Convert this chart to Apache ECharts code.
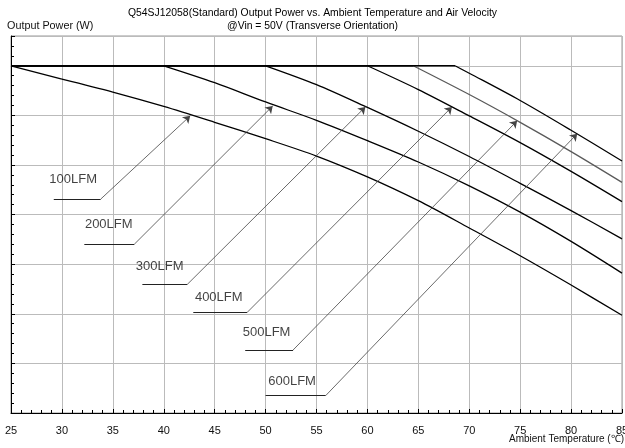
<!DOCTYPE html>
<html>
<head>
<meta charset="utf-8">
<title>Q54SJ12058 derating</title>
<script src="https://cdn.jsdelivr.net/npm/echarts@6/dist/echarts.min.js"></script>
<style>
  html, body { margin: 0; padding: 0; background: #fff; }
  #chart { width: 625px; height: 448px; }
</style>
</head>
<body>
<div id="chart"></div>
<script>
// Output power (W) vs ambient temperature (°C) for each air velocity
const temp100 = [25, 30, 35, 40, 45, 50, 55, 60, 65, 70, 75, 80, 85];
const power100 = [700, 673, 647, 618, 586, 553, 518, 476, 428, 373, 317, 258, 197];

const temp200 = [25, 40, 45, 50, 55, 60, 65, 70, 75, 80, 85];
const power200 = [700, 700, 666, 627, 590, 549, 506, 458, 405, 346, 282];

const temp300 = [25, 50, 55, 60, 65, 70, 75, 80, 85];
const power300 = [700, 700, 662, 616, 568, 517, 463, 408, 351];

const temp400 = [25, 60, 65, 70, 75, 80, 85];
const power400 = [700, 700, 652, 599, 545, 487, 426];

const temp500 = [25, 64.5, 70, 75, 80, 85];
const power500 = [700, 700, 642, 586, 527, 465];

const temp600 = [25, 68.6, 70, 75, 80, 85];
const power600 = [700, 700, 685, 630, 570, 508];

const xTicks = [25, 30, 35, 40, 45, 50, 55, 60, 65, 70, 75, 80, 85];

// Callout labels: text anchor, underline start/end and arrow tip, in data units
const calloutNames = ['100LFM', '200LFM', '300LFM', '400LFM', '500LFM', '600LFM'];
const calloutText = [[31.1, 471], [34.6, 381], [39.6, 296], [45.4, 233], [50.1, 162], [52.6, 64]];
const calloutLineA = [[29.2, 431], [32.2, 340], [37.9, 259], [42.9, 203], [48.0, 127], [50.0, 35]];
const calloutLineB = [[33.8, 431], [37.1, 340], [42.3, 259], [48.2, 203], [52.7, 127], [55.9, 35]];
const calloutTip = [[42.6, 599], [50.7, 619], [59.8, 617], [68.3, 617], [74.7, 589], [80.6, 563]];

function pairs(t, p) { return t.map((v, i) => [v, p[i]]); }

const curves = [
  { name: '100LFM', t: temp100, p: power100, color: '#000' },
  { name: '200LFM', t: temp200, p: power200, color: '#000' },
  { name: '300LFM', t: temp300, p: power300, color: '#000' },
  { name: '400LFM', t: temp400, p: power400, color: '#000' },
  { name: '500LFM', t: temp500, p: power500, color: '#5a5a5a' },
  { name: '600LFM', t: temp600, p: power600, color: '#000' }
];

const FONT = '"Liberation Sans", Arial, sans-serif';

const series = [];
curves.forEach(c => {
  const pts = pairs(c.t, c.p);
  // flat full-power stretch, drawn straight so the knee stays sharp
  series.push({
    type: 'line', name: c.name, data: pts.slice(0, 2),
    showSymbol: false, symbol: 'none',
    lineStyle: { color: '#000', width: 1.3 }, z: 3, silent: true
  });
  // derated stretch, smoothed
  series.push({
    type: 'line', name: c.name, data: pts.slice(1),
    showSymbol: false, symbol: 'none',
    smooth: 0.3,
    lineStyle: { color: c.color, width: 1.3 }, z: 3, silent: true
  });
});

// underlines below each callout text
series.push({
  type: 'lines',
  coordinateSystem: 'cartesian2d',
  symbol: ['none', 'none'],
  lineStyle: { color: '#222', width: 1, opacity: 1 },
  data: calloutNames.map((n, i) => ({ coords: [calloutLineA[i], calloutLineB[i]] })),
  z: 4,
  silent: true
});

// leader lines with arrowheads
series.push({
  type: 'lines',
  coordinateSystem: 'cartesian2d',
  symbol: ['none', 'arrow'],
  symbolSize: [5, 7],
  lineStyle: { color: '#444', width: 0.8, opacity: 1 },
  itemStyle: { color: '#222' },
  data: calloutNames.map((n, i) => ({ coords: [calloutLineB[i], calloutTip[i]] })),
  z: 4,
  silent: true
});

series.push({
  type: 'scatter',
  symbolSize: 0,
  data: calloutNames.map((n, i) => ({ value: calloutText[i], name: n })),
  label: {
    show: true,
    position: 'inside',
    formatter: p => p.name,
    fontFamily: FONT,
    fontSize: 13,
    color: '#111'
  },
  z: 5,
  silent: true
});

const chart = echarts.init(document.getElementById('chart'), null, { renderer: 'canvas' });
chart.setOption({
  animation: false,
  backgroundColor: '#fff',
  title: [
    {
      text: 'Q54SJ12058(Standard) Output Power vs. Ambient Temperature and Air Velocity\n@Vin = 50V (Transverse Orientation)',
      left: 'center',
      top: 2,
      textStyle: { fontFamily: FONT, fontSize: 10.4, fontWeight: 'normal', color: '#000', lineHeight: 13 }
    },
    {
      // x-axis caption, tucked under the right end of the axis
      text: 'Ambient Temperature (℃)',
      right: 0,
      top: 434,
      padding: [0, 1, 0, 0],
      textStyle: { fontFamily: FONT, fontSize: 10, fontWeight: 'normal', color: '#111' }
    }
  ],
  grid: {
    left: 11, right: 3, top: 36, bottom: 35,
    show: true, borderColor: '#999', borderWidth: 1,
    containLabel: false, outerBoundsMode: 'none'
  },
  xAxis: {
    type: 'value',
    min: 25, max: 85, interval: 5,
    axisLine: { show: true, lineStyle: { color: '#000', width: 1 } },
    axisTick: { show: true, inside: true, length: 4, lineStyle: { color: '#000' } },
    minorTick: { show: true, splitNumber: 5, length: 3, lineStyle: { color: '#000' } },
    axisLabel: {
      fontFamily: FONT, fontSize: 11, color: '#111', margin: 12,
      customValues: xTicks
    },
    splitLine: { show: true, lineStyle: { color: '#bbb', width: 1 } }
  },
  yAxis: {
    type: 'value',
    min: 0, max: 760, interval: 100,
    name: 'Output Power (W)',
    nameLocation: 'end',
    nameGap: 4,
    nameTextStyle: { fontFamily: FONT, fontSize: 10.8, color: '#111', align: 'left', padding: [0, 0, 0, -4] },
    axisLine: { show: true, lineStyle: { color: '#000', width: 1 } },
    axisTick: { show: true, inside: true, length: 4, lineStyle: { color: '#000' } },
    minorTick: { show: true, splitNumber: 5, length: 3, lineStyle: { color: '#000' } },
    axisLabel: { show: false },
    splitLine: { show: true, lineStyle: { color: '#bbb', width: 1 } }
  },
  series: series
});
</script>
</body>
</html>
